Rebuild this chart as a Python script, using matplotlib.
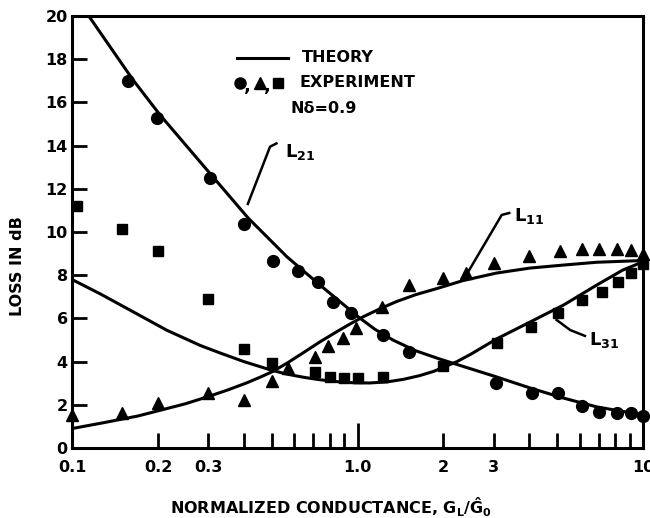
import matplotlib
matplotlib.use("Agg")
import matplotlib.pyplot as plt

plt.rcParams['font.family'] = ['DejaVu Sans']
plt.rcParams['font.weight'] = 'bold'
plt.rcParams['mathtext.fontset'] = 'dejavusans'
plt.rcParams['mathtext.default'] = 'bf'

# Theory curves (normalized conductance, loss in dB)
l21_theory_x = [0.1138, 0.1636, 0.2034, 0.3117, 0.4138, 0.5663, 0.738, 1.018, 1.15, 1.33, 1.6, 1.94, 2.34, 3.07, 4.02, 5.27, 6.9, 10.0]
l21_theory_y = [20.05, 17.04, 15.42, 12.55, 10.65, 8.85, 7.55, 6.02, 5.5, 5.0, 4.5, 4.12, 3.78, 3.29, 2.78, 2.31, 1.9, 1.53]

l11_theory_x = [0.1, 0.13, 0.17, 0.2, 0.25, 0.3, 0.35, 0.41, 0.46, 0.506, 0.57, 0.644, 0.74, 0.85, 0.95, 1.045, 1.2, 1.37, 1.6, 1.94, 2.34, 3.07, 4.02, 5.27, 6.9, 10.0]
l11_theory_y = [0.9, 1.18, 1.48, 1.72, 2.05, 2.38, 2.68, 3.02, 3.3, 3.55, 3.95, 4.4, 4.92, 5.4, 5.77, 6.07, 6.45, 6.78, 7.1, 7.42, 7.75, 8.1, 8.33, 8.47, 8.6, 8.68]

l31_theory_x = [0.1, 0.125, 0.164, 0.215, 0.281, 0.33, 0.4, 0.5, 0.566, 0.65, 0.738, 0.85, 0.965, 1.1, 1.27, 1.45, 1.65, 1.85, 2.03, 2.23, 2.5, 3.07, 4.02, 5.27, 6.9, 8.5, 10.0]
l31_theory_y = [7.8, 7.15, 6.3, 5.45, 4.75, 4.4, 4.0, 3.6, 3.42, 3.27, 3.16, 3.07, 3.02, 3.01, 3.06, 3.18, 3.35, 3.55, 3.77, 4.0, 4.35, 5.05, 5.83, 6.62, 7.55, 8.24, 8.62]

# Measured points
l21_exp_x = [0.157, 0.198, 0.304, 0.40, 0.505, 0.62, 0.73, 0.82, 0.95, 1.23, 1.52, 3.05, 4.1, 5.05, 6.1, 7.0, 8.1, 9.1, 10.0]
l21_exp_y = [17.0, 15.3, 12.5, 10.35, 8.65, 8.2, 7.7, 6.75, 6.25, 5.25, 4.45, 3.0, 2.55, 2.55, 1.95, 1.65, 1.62, 1.62, 1.5]

l11_exp_x = [0.10, 0.15, 0.20, 0.30, 0.40, 0.50, 0.57, 0.71, 0.79, 0.89, 0.99, 1.22, 1.52, 2.0, 2.4, 3.0, 4.0, 5.1, 6.1, 7.0, 8.1, 9.1, 10.0]
l11_exp_y = [1.55, 1.6, 2.1, 2.55, 2.2, 3.1, 3.7, 4.2, 4.7, 5.1, 5.55, 6.55, 7.55, 7.85, 8.1, 8.55, 8.9, 9.1, 9.2, 9.2, 9.2, 9.15, 9.0]

l31_exp_x = [0.104, 0.15, 0.20, 0.30, 0.40, 0.50, 0.71, 0.80, 0.90, 1.0, 1.23, 2.0, 3.08, 4.05, 5.05, 6.1, 7.2, 8.2, 9.1, 10.0]
l31_exp_y = [11.2, 10.15, 9.1, 6.9, 4.6, 3.95, 3.5, 3.3, 3.25, 3.25, 3.3, 3.8, 4.85, 5.6, 6.25, 6.85, 7.2, 7.7, 8.1, 8.5]

x_tick_values = [0.1, 0.2, 0.3, 0.4, 0.5, 0.6, 0.7, 0.8, 0.9, 1.0, 2, 3, 4, 5, 6, 7, 8, 9, 10]
x_tick_labels = ['0.1', '0.2', '0.3', '', '', '', '', '', '', '1.0', '2', '3', '', '', '', '', '', '', '10']
y_tick_values = [0, 2, 4, 6, 8, 10, 12, 14, 16, 18, 20]

fig = plt.figure(figsize=(6.5, 5.18), dpi=100)
ax = fig.add_axes([72 / 650, 1 - 448 / 518, 571 / 650, 432 / 518])

lw = 2.2
line_style = dict(color='black', lw=lw, solid_capstyle='round', solid_joinstyle='round')
ax.plot(l21_theory_x, l21_theory_y, **line_style)
ax.plot(l11_theory_x, l11_theory_y, **line_style)
ax.plot(l31_theory_x, l31_theory_y, **line_style)

ax.plot(l21_exp_x, l21_exp_y, 'o', color='black', ms=8.5, clip_on=False)
ax.plot(l11_exp_x, l11_exp_y, '^', color='black', ms=8.5, clip_on=False)
ax.plot(l31_exp_x, l31_exp_y, 's', color='black', ms=7.5, clip_on=False)

ax.set_xscale('log')
ax.set_xlim(0.1, 10)
ax.set_ylim(0, 20)
ax.xaxis.set_minor_locator(matplotlib.ticker.NullLocator())
ax.set_xticks(x_tick_values)
ax.set_xticklabels(x_tick_labels)
ax.set_yticks(y_tick_values)
ax.set_yticklabels([str(v) for v in y_tick_values])

ax.tick_params(axis='both', direction='in', length=11, width=2.0, labelsize=11.5)
ax.tick_params(axis='x', pad=9)
ax.tick_params(axis='y', pad=3)
# taller mark at unity conductance
for val, tk in zip(x_tick_values, ax.xaxis.get_major_ticks()):
    if val == 1.0:
        tk.tick1line.set_markersize(18)

for s in ax.spines.values():
    s.set_linewidth(2.2)

ax.set_xlabel(r'NORMALIZED CONDUCTANCE, $\mathbf{G_L/\hat{G}_0}$', fontsize=11.5, fontweight='bold')
ax.xaxis.set_label_coords(0.454, -0.11)
ax.set_ylabel('LOSS IN dB', fontsize=11.5, fontweight='bold')
ax.yaxis.set_label_coords(-0.082, 0.42)

# Key
tA = ax.transAxes
ax.plot([0.289, 0.378], [0.903, 0.903], color='black', lw=lw, transform=tA, clip_on=False)
ax.text(0.403, 0.903, 'THEORY', transform=tA, ha='left', va='center', fontsize=11.5, fontweight='bold')
ax.plot([0.294], [0.845], 'o', color='black', ms=8, transform=tA)
ax.plot([0.329], [0.845], '^', color='black', ms=8, transform=tA)
ax.plot([0.361], [0.845], 's', color='black', ms=7, transform=tA)
ax.text(0.308, 0.838, ',', transform=tA, ha='center', va='center', fontsize=13, fontweight='bold')
ax.text(0.342, 0.838, ',', transform=tA, ha='center', va='center', fontsize=13, fontweight='bold')
ax.text(0.399, 0.845, 'EXPERIMENT', transform=tA, ha='left', va='center', fontsize=11.5, fontweight='bold')
ax.text(0.382, 0.787, 'Nδ=0.9', transform=tA, ha='left', va='center', fontsize=11.5, fontweight='bold')

# Curve labels with leader lines
ax.plot([0.52, 0.494, 0.413], [14.1, 13.95, 11.3], color='black', lw=1.8)
ax.text(0.557, 13.7, r'$\mathbf{L_{21}}$', ha='left', va='center', fontsize=13)
ax.plot([3.4, 3.2, 2.44], [10.88, 10.79, 8.15], color='black', lw=1.8)
ax.text(3.54, 10.75, r'$\mathbf{L_{11}}$', ha='left', va='center', fontsize=13)
ax.plot([6.26, 5.56, 4.98], [5.19, 5.46, 5.93], color='black', lw=1.8)
ax.text(6.45, 5.0, r'$\mathbf{L_{31}}$', ha='left', va='center', fontsize=13)

fig.savefig('out.png', dpi=100, facecolor='white')
